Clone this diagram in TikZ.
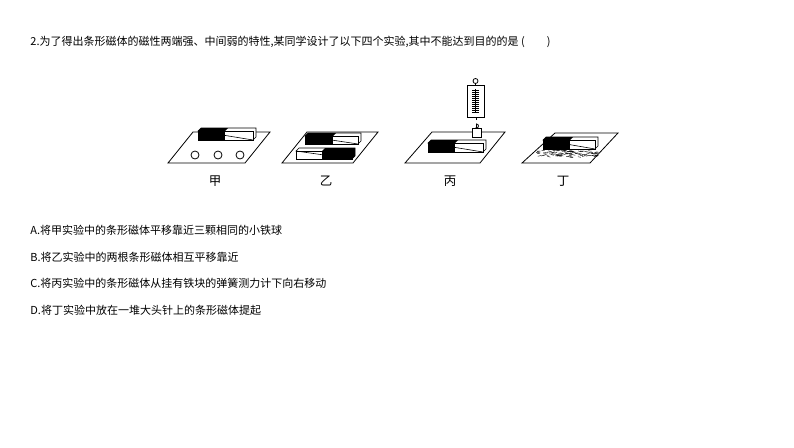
\documentclass[tikz,border=0pt]{standalone}
\usepackage{fontspec}
\setmainfont{Noto Sans CJK SC}
\newcommand{\magbar}[6]{%
  \fill[white,draw=black,line width=0.6pt] (#1,#4) -- (#1+3,#4-3) -- (#3+3,#4-3) -- (#3+3,#5-3) -- (#3,#5) -- cycle;
  \ifnum#6=0
   \fill[black] (#1,#4) rectangle (#2,#5);
   \fill[black] (#1,#4) -- (#1+3,#4-3) -- (#2+3,#4-3) -- (#2,#4) -- cycle;
   \draw[line width=0.6pt] (#1,#4) rectangle (#3,#5);
  \else
   \fill[black] (#2,#4) rectangle (#3,#5);
   \fill[black] (#2,#4) -- (#2+3,#4-3) -- (#3+3,#4-3) -- (#3+3,#5-3) -- (#3,#5) -- (#3,#4) -- cycle;
   \draw[line width=0.6pt] (#1,#4) rectangle (#3,#5);
  \fi}
\begin{document}
\begin{tikzpicture}[x=1pt,y=-1pt,line width=0.8pt,
  txt/.style={anchor=west,inner sep=0pt,font=\fontsize{11}{12}\selectfont},
  lab/.style={inner sep=0pt,font=\fontsize{12.5}{13}\selectfont}]
\useasboundingbox (0,0) rectangle (794,447);
\node[txt] (t) at (30,42) {2.为了得出条形磁体的磁性两端强、中间弱的特性,某同学设计了以下四个实验,其中不能达到目的的是 (\qquad)};
\node[txt] (a) at (30,230) {A.将甲实验中的条形磁体平移靠近三颗相同的小铁球};
\node[txt] (b) at (30,257) {B.将乙实验中的两根条形磁体相互平移靠近};
\node[txt] (c) at (30,283) {C.将丙实验中的条形磁体从挂有铁块的弹簧测力计下向右移动};
\node[txt] (d) at (30,310) {D.将丁实验中放在一堆大头针上的条形磁体提起};
% 甲
\draw (193,132) -- (270,132) -- (245,163) -- (168,163) -- cycle;
\magbar{198}{225}{253}{131}{140}{0}
\foreach \x in {195,218,240} \draw (\x,155) circle (4);
\node[lab] (jia) at (215,181) {甲};
% 乙
\draw (307,132) -- (378,132) -- (353,163) -- (282,163) -- cycle;
\magbar{305}{333}{358}{136}{144}{0}
\magbar{296}{322}{352}{151}{159}{1}
\node[lab] (yi) at (326,181) {乙};
% 丙
\draw (432,132) -- (505,132) -- (480,163) -- (405,163) -- cycle;
\magbar{428}{455}{483}{143}{152}{0}
\draw[fill=white] (472,128) rectangle (481,137);
\draw (476.5,128) -- (476.5,124) arc (-90:120:2);
\draw (476.5,120) -- (476.5,117);
\draw[fill=white] (467,85) rectangle (484,117);
\draw[line width=1.6pt] (475.5,89) -- (475.5,113);
\foreach \y in {90,92,...,112} \draw[line width=0.5pt] (472,\y) -- (479,\y);
\draw (475.5,81) circle (2.5);
\draw (475.5,83.5) -- (475.5,85);
\node[lab] (bing) at (450,181) {丙};
% 丁
\draw (555,133) -- (618,133) -- (590,163) -- (522,163) -- cycle;
\magbar{543}{570}{595}{140}{149}{0}
\foreach \i in {0,...,110} {
  \pgfmathsetmacro{\px}{536+rnd*60}
  \pgfmathsetmacro{\py}{150+rnd*7}
  \draw[line width=0.4pt] (\px,\py) -- ++(3,{(rnd-0.5)*2});}
\node[lab] (ding) at (563,181) {丁};
\end{tikzpicture}
\end{document}
